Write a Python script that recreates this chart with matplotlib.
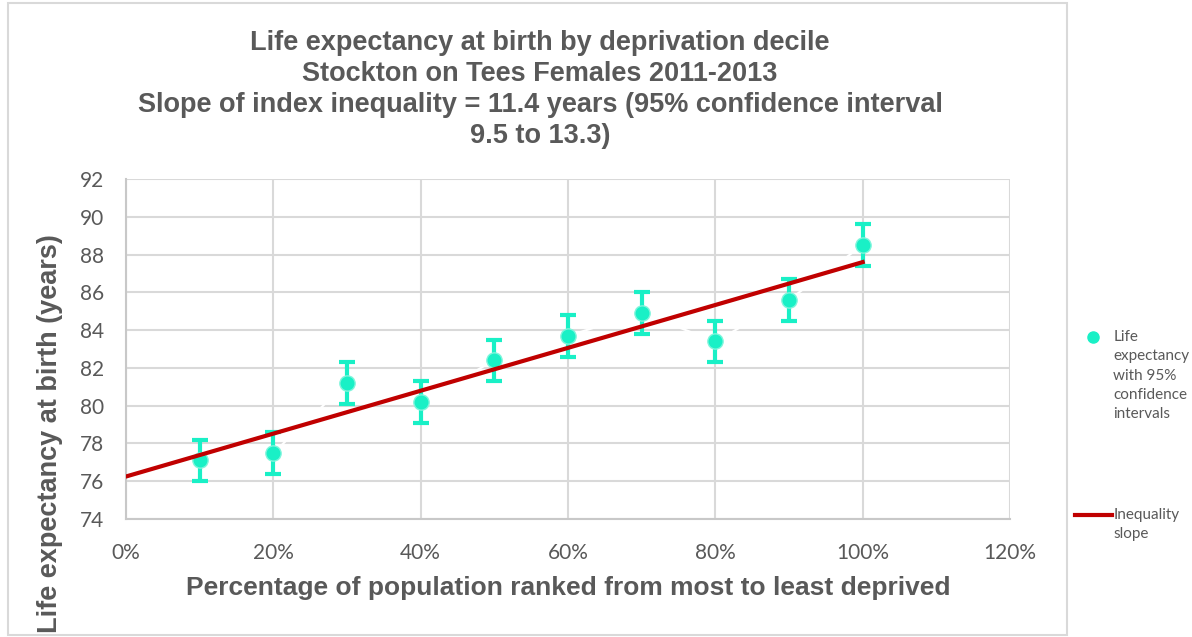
import matplotlib.pyplot as plt
from matplotlib.patches import Rectangle
from matplotlib.lines import Line2D

# Data
deciles = [0.1, 0.2, 0.3, 0.4, 0.5, 0.6, 0.7, 0.8, 0.9, 1.0]
life_exp = [77.1, 77.5, 81.2, 80.2, 82.4, 83.7, 84.9, 83.4, 85.6, 88.5]
ci_low = [76.0, 76.4, 80.1, 79.1, 81.3, 82.6, 83.8, 82.3, 84.5, 87.4]
ci_high = [78.2, 78.6, 82.3, 81.3, 83.5, 84.8, 86.0, 84.5, 86.7, 89.6]
slope_x = [0.0, 1.0]
slope_y = [76.25, 87.6]

x_ticks = [0, 0.2, 0.4, 0.6, 0.8, 1.0, 1.2]
x_tick_labels = ["0%", "20%", "40%", "60%", "80%", "100%", "120%"]
y_ticks = [74, 76, 78, 80, 82, 84, 86, 88, 90, 92]

title = ("Life expectancy at birth by deprivation decile\n"
         "Stockton on Tees Females 2011-2013\n"
         "Slope of index inequality = 11.4 years (95% confidence interval\n"
         "9.5 to 13.3)")

TEXT = "#595959"
GRID = "#d9d9d9"
TEAL = "#19f0c6"
RED = "#c00000"
W, H = 1192, 637

fig = plt.figure(figsize=(W / 100, H / 100), dpi=100)
ax = fig.add_axes([126 / W, 1 - 519 / H, (1010 - 126) / W, (519 - 179) / H])

# outer chart border
fig.add_artist(Rectangle((8 / W, 1 - 635 / H), (1067 - 8) / W, (635 - 3) / H,
                         transform=fig.transFigure, fill=False,
                         edgecolor=GRID, linewidth=1.5))

err_lo = [v - lo for v, lo in zip(life_exp, ci_low)]
err_hi = [hi - v for v, hi in zip(life_exp, ci_high)]

# hidden white connector line (shows as gaps in the gridlines)
ax.plot(deciles, life_exp, color="white", linewidth=1.5, zorder=2)
ax.errorbar(deciles, life_exp, yerr=[err_lo, err_hi], fmt="none",
            ecolor=TEAL, elinewidth=3, capsize=6, capthick=3, zorder=3)
ax.plot(deciles, life_exp, "o", color=TEAL, markersize=11,
        markeredgecolor="#7ff5dc", markeredgewidth=1, zorder=4)
ax.plot(slope_x, slope_y, color=RED, linewidth=3, zorder=5)

ax.set_xlim(0, 1.2)
ax.set_ylim(74, 92)
ax.set_xticks(x_ticks)
ax.set_xticklabels(x_tick_labels)
ax.set_yticks(y_ticks)
ax.grid(True, color=GRID, linewidth=1.5)
ax.set_axisbelow(True)
for side in ["top", "right"]:
    ax.spines[side].set_visible(False)
for side in ["left", "bottom"]:
    ax.spines[side].set_color("#c8c8c8")
    ax.spines[side].set_linewidth(1.5)
ax.tick_params(length=0, labelsize=15, labelcolor=TEXT)
ax.tick_params(axis="x", pad=17)
ax.tick_params(axis="y", pad=16)
for lbl in ax.get_xticklabels() + ax.get_yticklabels():
    lbl.set_fontfamily("Lato")

ax.set_xlabel("Percentage of population ranked from most to least deprived",
              fontsize=19, fontweight="bold", color=TEXT,
              family="Liberation Sans", labelpad=10)
ax.set_ylabel("Life expectancy at birth (years)", fontsize=19.5,
              fontweight="bold", color=TEXT, family="Liberation Sans")
# Excel put the y title low, not centred on the plot area
ax.yaxis.set_label_coords((63 - 126) / 884, (519 - 434) / 340)
fig.text(540 / W, 1 - 30 / H, title, ha="center", va="top", fontsize=19.5,
         fontweight="bold", color=TEXT, family="Liberation Sans",
         linespacing=1.25)

# legend: leading blank lines keep each handle level with the first text line
handles = [
    Line2D([], [], marker="o", linestyle="none", color=TEAL, markersize=8),
    Line2D([], [], color=RED, linewidth=3),
]
labels = ["\n\n\n\nLife\nexpectancy\nwith 95%\nconfidence\nintervals",
          "\nInequality\nslope"]
leg = ax.legend(handles, labels, loc="upper left",
                bbox_to_anchor=(1075 / W, 1 - 253 / H),
                bbox_transform=fig.transFigure, frameon=False,
                prop={"family": "Lato", "size": 11}, labelspacing=4.4,
                handlelength=2.4, handletextpad=0.1, borderpad=0,
                borderaxespad=0)
for t in leg.get_texts():
    t.set_color(TEXT)
    t.set_linespacing(1.48)

fig.savefig("out.png", dpi=100)
